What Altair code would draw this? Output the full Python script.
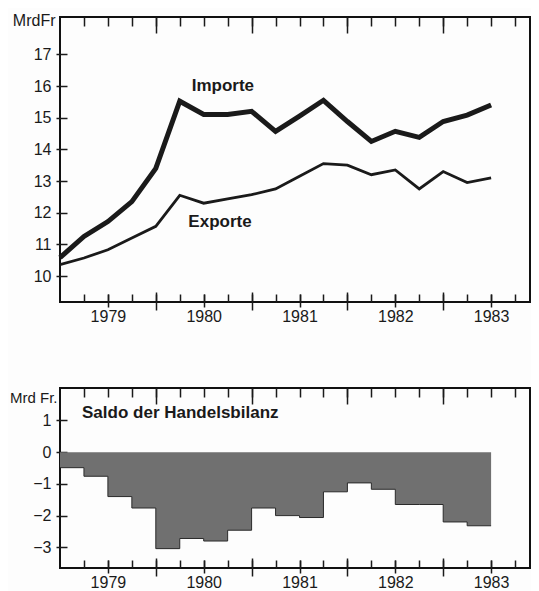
import altair as alt
import pandas as pd

# quarterly time points (years)
quarters = [1978.5, 1978.75, 1979.0, 1979.25, 1979.5, 1979.75, 1980.0, 1980.25,
            1980.5, 1980.75, 1981.0, 1981.25, 1981.5, 1981.75, 1982.0, 1982.25,
            1982.5, 1982.75, 1983.0]
importe = [10.58, 11.25, 11.72, 12.35, 13.4, 15.52, 15.1, 15.1, 15.2, 14.57,
           15.05, 15.55, 14.88, 14.25, 14.57, 14.38, 14.88, 15.08, 15.4]
exporte = [10.36, 10.57, 10.83, 11.2, 11.57, 12.55, 12.3, 12.44, 12.57, 12.75,
           13.15, 13.55, 13.5, 13.2, 13.35, 12.75, 13.3, 12.95, 13.1]
# trade balance per quarter (step from quarters[i] to quarters[i+1])
saldo = [-0.49, -0.76, -1.4, -1.76, -3.04, -2.72, -2.8, -2.46, -1.76, -2.0,
         -2.06, -1.25, -0.97, -1.17, -1.65, -1.65, -2.2, -2.32]

series_names = ["Importe", "Exporte"]
year_labels = [1979, 1980, 1981, 1982, 1983]
half_years = [1979.5, 1980.5, 1981.5, 1982.5]
quarter_ticks = [1978.75, 1979.0, 1979.25, 1979.5, 1979.75, 1980.0, 1980.25,
                 1980.5, 1980.75, 1981.0, 1981.25, 1981.5, 1981.75, 1982.0,
                 1982.25, 1982.5, 1982.75, 1983.0, 1983.25]
y_top_ticks = [10, 11, 12, 13, 14, 15, 16, 17]
y_bot_ticks = [1, 0, -1, -2, -3]

# annotation labels
line_label_text = ["Importe", "Exporte"]
line_label_t = [1980.2, 1980.17]
line_label_v = [16.0, 11.7]
saldo_label_text = ["Saldo der Handelsbilanz"]
saldo_label_t = [1978.73]
saldo_label_v = [1.23]

FONT = "Liberation Sans"
INK = "#1a1a1a"
PLOT_W = 470

df_lines = pd.DataFrame({
    "t": quarters * 2,
    "value": importe + exporte,
    "series": [series_names[0]] * len(quarters) + [series_names[1]] * len(quarters),
})
df_line_labels = pd.DataFrame({"t": line_label_t, "value": line_label_v, "text": line_label_text})
df_saldo = pd.DataFrame({"t": quarters, "saldo": saldo + [saldo[-1]]})
df_saldo_label = pd.DataFrame({"t": saldo_label_t, "saldo": saldo_label_v, "text": saldo_label_text})

xs = alt.Scale(domain=[1978.5, 1978.5 + PLOT_W / 95.8], nice=False, zero=False)
ys_top = alt.Scale(domain=[9.18, 18.18], nice=False, zero=False)
ys_bot = alt.Scale(domain=[-3.65, 2.02], nice=False, zero=False)


def x_axes():
    return [
        alt.Axis(orient="bottom", values=quarter_ticks, labels=False, offset=-8,
                 tickSize=8, domain=False, title=None, grid=False),
        alt.Axis(orient="bottom", values=half_years, labels=False, offset=-10,
                 tickSize=18, domain=False, title=None, grid=False),
        alt.Axis(orient="top", values=quarter_ticks, labels=False, offset=-9,
                 tickSize=9, domain=False, title=None, grid=False),
        alt.Axis(orient="top", values=half_years, labels=False, offset=-16,
                 tickSize=16, domain=False, title=None, grid=False),
    ]


def label_x_axis(tick, pad, size):
    return alt.Axis(orient="bottom", values=year_labels, format="d", offset=-8,
                    tickSize=tick, labelPadding=pad, domain=False, title=None,
                    grid=False, labelFontSize=size)


def y_axis(vals, title, tx, ty, tsize):
    return alt.Axis(orient="left", values=vals, offset=-7, tickSize=11, labelPadding=5,
                    domain=False, grid=False, title=title, titleAngle=0,
                    titleAlign="right", titleBaseline="middle", titleX=tx, titleY=ty,
                    titleFont=FONT, titleFontSize=tsize, titleFontWeight="normal",
                    titleColor=INK, labelFontSize=16)


def axis_layers(data, ycol, yscale):
    return [
        alt.Chart(data).mark_point(opacity=0, size=1).encode(
            x=alt.X("t:Q", scale=xs, axis=ax),
            y=alt.Y(f"{ycol}:Q", scale=yscale, axis=None),
        )
        for ax in x_axes()
    ]


lines = alt.Chart(df_lines).mark_line(color=INK).encode(
    x=alt.X("t:Q", scale=xs, axis=label_x_axis(13, 1, 16)),
    y=alt.Y("value:Q", scale=ys_top, axis=y_axis(y_top_ticks, "MrdFr", -12, 3, 16)),
    strokeWidth=alt.StrokeWidth("series:N", scale=alt.Scale(domain=series_names, range=[5, 2.8]),
                                legend=None),
)
line_texts = alt.Chart(df_line_labels).mark_text(
    font=FONT, fontSize=17, fontWeight="bold", color=INK, align="center", baseline="middle"
).encode(
    x=alt.X("t:Q", scale=xs, axis=None),
    y=alt.Y("value:Q", scale=ys_top, axis=None),
    text="text:N",
)
top = alt.layer(lines, line_texts, *axis_layers(df_lines, "value", ys_top)).resolve_axis(
    x="independent", y="independent"
).properties(width=PLOT_W, height=285)

area = alt.Chart(df_saldo).mark_area(
    interpolate="step-after", color="#707070", opacity=1, fillOpacity=1,
    line={"color": "#2a2a2a", "strokeWidth": 1}
).encode(
    x=alt.X("t:Q", scale=xs, axis=label_x_axis(13, 1, 16)),
    y=alt.Y("saldo:Q", scale=ys_bot, axis=y_axis(y_bot_ticks, "Mrd Fr.", -10, 9, 15)),
    y2=alt.datum(0),
)
saldo_text = alt.Chart(df_saldo_label).mark_text(
    font=FONT, fontSize=17, fontWeight="bold", color=INK, align="left", baseline="middle"
).encode(
    x=alt.X("t:Q", scale=xs, axis=None),
    y=alt.Y("saldo:Q", scale=ys_bot, axis=None),
    text="text:N",
)
bottom = alt.layer(area, saldo_text, *axis_layers(df_saldo, "saldo", ys_bot)).resolve_axis(
    x="independent", y="independent"
).properties(width=PLOT_W, height=180)

chart = alt.vconcat(top, bottom, spacing=61).properties(
    padding={"left": 0, "top": 3, "right": 0, "bottom": 0},
    background="#fdfdfd",
).configure_view(
    stroke="#111", strokeWidth=2
).configure_axis(
    labelFont=FONT, labelColor=INK, tickColor=INK, tickWidth=1.5, grid=False
)

chart.save("out.html", embed_options={"renderer": "svg", "actions": False})
